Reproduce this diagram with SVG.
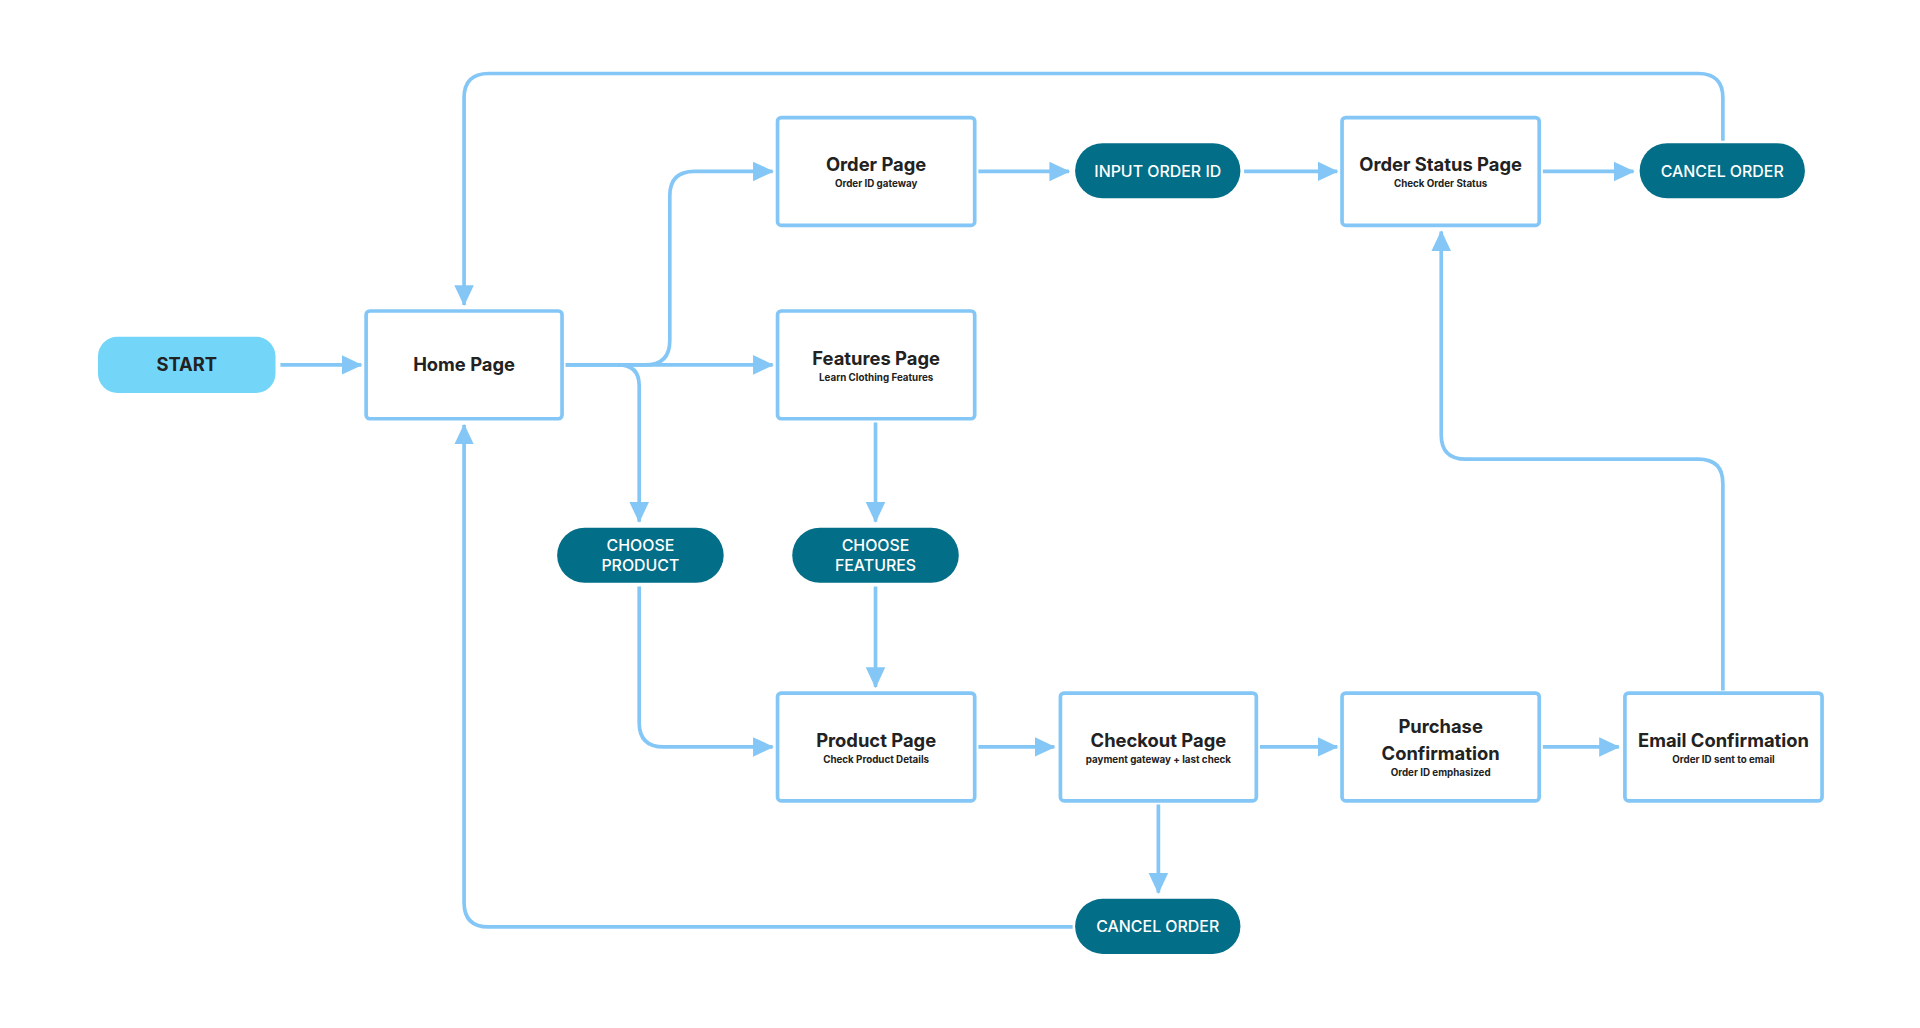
<svg xmlns="http://www.w3.org/2000/svg" width="1920" height="1028" viewBox="0 0 1920 1028">
<style>
.box{fill:#fff;stroke:#84c7f6;stroke-width:3}
.pill{fill:#036e87}
.t{font-family:Inter,"Liberation Sans",sans-serif;font-weight:700;font-size:15px;fill:#222;text-anchor:middle}
.s{font-family:Inter,"Liberation Sans",sans-serif;font-weight:700;font-size:8px;fill:#222;text-anchor:middle}
.p{font-family:Inter,"Liberation Sans",sans-serif;font-weight:500;font-size:13px;fill:#fff;text-anchor:middle}
.c path{fill:none;stroke:#84c7f6;stroke-width:3;marker-end:url(#a)}
</style>
<defs>
<marker id="a" markerUnits="userSpaceOnUse" markerWidth="18" markerHeight="18" viewBox="0 0 18 18" refX="16" refY="9" orient="auto">
<path d="M0 1 L17 9 L0 17 Z" fill="#84c7f6"/>
</marker>
</defs>
<rect width="1920" height="1028" fill="#fff"/>
<g transform="scale(1.2245)">
<g class="c" id="connectors">
<path d="M229 298 H295"/>
<path d="M462 298 H631"/>
<path d="M462 298 H527 Q547 298 547 278 V160 Q547 140 567 140 H631"/>
<path d="M505 298 Q522 298 522 315 V426"/>
<path d="M799 140 H873"/>
<path d="M1016 140 H1092"/>
<path d="M1260 140 H1334"/>
<path d="M1407 115 V80 Q1407 60 1387 60 H399 Q379 60 379 80 V249"/>
<path d="M715 345 V426"/>
<path d="M715 479 V561"/>
<path d="M522 479 V590 Q522 610 542 610 H631"/>
<path d="M799 610 H861"/>
<path d="M1029 610 H1092"/>
<path d="M1260 610 H1322"/>
<path d="M946 657 V729"/>
<path d="M876 757 H399 Q379 757 379 737 V347"/>
<path d="M1407 564 V395 Q1407 375 1387 375 H1197 Q1177 375 1177 355 V189"/>
</g>
<g id="start"><rect x="80" y="275" width="145" height="46" rx="16" fill="#73d5f7"/><text class="t" x="152.5" y="303" fill="#1a2a33">START</text></g>
<g id="home"><rect class="box" x="299" y="254" width="160" height="88" rx="3"/><text class="t" x="379" y="303">Home Page</text></g>
<g id="order"><rect class="box" x="635" y="96" width="161" height="88" rx="3"/><text class="t" x="715.5" y="140">Order Page</text><text class="s" x="715.5" y="153">Order ID gateway</text></g>
<g id="features"><rect class="box" x="635" y="254" width="161" height="88" rx="3"/><text class="t" x="715.5" y="298">Features Page</text><text class="s" x="715.5" y="311">Learn Clothing Features</text></g>
<g id="status"><rect class="box" x="1096" y="96" width="161" height="88" rx="3"/><text class="t" x="1176.5" y="140">Order Status Page</text><text class="s" x="1176.5" y="153">Check Order Status</text></g>
<g id="product"><rect class="box" x="635" y="566" width="161" height="88" rx="3"/><text class="t" x="715.5" y="610">Product Page</text><text class="s" x="715.5" y="623">Check Product Details</text></g>
<g id="checkout"><rect class="box" x="866" y="566" width="160" height="88" rx="3"/><text class="t" x="946" y="610">Checkout Page</text><text class="s" x="946" y="623">payment gateway + last check</text></g>
<g id="purchase"><rect class="box" x="1096" y="566" width="161" height="88" rx="3"/><text class="t" x="1176.5" y="599">Purchase</text><text class="t" x="1176.5" y="621">Confirmation</text><text class="s" x="1176.5" y="634">Order ID emphasized</text></g>
<g id="email"><rect class="box" x="1327" y="566" width="161" height="88" rx="3"/><text class="t" x="1407.5" y="610">Email Confirmation</text><text class="s" x="1407.5" y="623">Order ID sent to email</text></g>
<g id="input"><rect class="pill" x="878" y="117" width="135" height="45" rx="22.5"/><text class="p" x="945.5" y="144.5">INPUT ORDER ID</text></g>
<g id="cancel1"><rect class="pill" x="1339" y="117" width="135" height="45" rx="22.5"/><text class="p" x="1406.5" y="144.5">CANCEL ORDER</text></g>
<g id="chooseproduct"><rect class="pill" x="455" y="431" width="136" height="45" rx="22.5"/><text class="p" x="523" y="450">CHOOSE</text><text class="p" x="523" y="466">PRODUCT</text></g>
<g id="choosefeatures"><rect class="pill" x="647" y="431" width="136" height="45" rx="22.5"/><text class="p" x="715" y="450">CHOOSE</text><text class="p" x="715" y="466">FEATURES</text></g>
<g id="cancel2"><rect class="pill" x="878" y="734" width="135" height="45" rx="22.5"/><text class="p" x="945.5" y="761.5">CANCEL ORDER</text></g>
</g>
</svg>
